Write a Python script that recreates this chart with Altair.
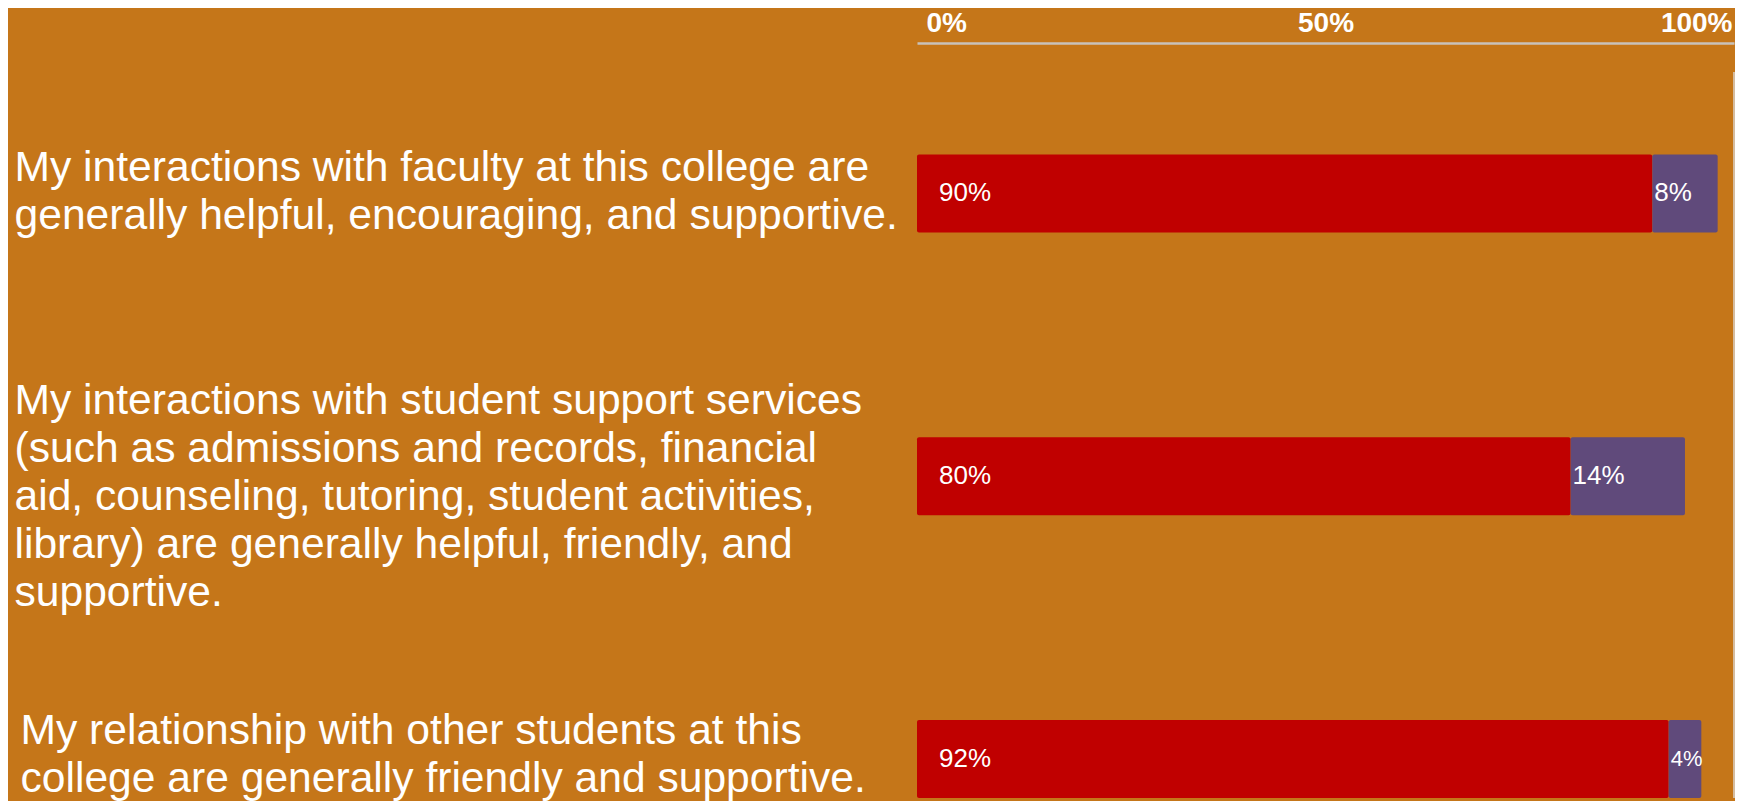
import altair as alt
import pandas as pd

# ---- data ----
questions = [
    "My interactions with faculty at this college are|generally helpful, encouraging, and supportive.",
    "My interactions with student support services|(such as admissions and records, financial|aid, counseling, tutoring, student activities,|library) are generally helpful, friendly, and|supportive.",
    "My relationship with other students at this|college are generally friendly and supportive.",
]
agree = [90, 80, 92]
disagree = [8, 14, 4]
segments = ["Agree", "Disagree"]
colors = ["#C00000", "#604A7B"]
x_ticks = [0, 50, 100]

rows = []
for q, a, d in zip(questions, agree, disagree):
    rows.append({"question": q, "segment": segments[0], "order": 0, "value": a})
    rows.append({"question": q, "segment": segments[1], "order": 1, "value": d})
df = pd.DataFrame(rows)

FONT = "Liberation Sans"
BG = "#C57619"
W, H = 817, 755

xscale = alt.Scale(domain=[0, 100], nice=False, zero=True)
yscale = alt.Scale(domain=questions, paddingInner=0.724, paddingOuter=0.197, align=1)

x_axis = alt.Axis(
    orient="top", values=x_ticks, labelExpr="datum.value + '%'", title="",
    grid=False, ticks=False, tickSize=0, labelFlush=True, labelPadding=6,
    labelOffset={"condition": [
        {"test": "datum.value == 0", "value": 9},
        {"test": "datum.value == 100", "value": -2},
    ], "value": 0},
    labelFont=FONT, labelFontSize=28, labelFontWeight="bold", labelColor="white",
    domainColor="#C8C2BA", domainWidth=2.5,
)
y_axis = alt.Axis(
    orient="left", title="", labelAlign="left", labelBaseline="middle",
    labelPadding={"condition": {"test": "indexof(datum.value, 'relationship') >= 0", "value": 897},
                  "value": 903},
    labelOffset={"condition": [
        {"test": "indexof(datum.value, 'faculty') >= 0", "value": -25},
        {"test": "indexof(datum.value, 'student support') >= 0", "value": -75},
    ], "value": -28},
    ticks=False, tickSize=0, domain=False, grid=False,
    labelExpr="split(datum.label, '|')", labelFont=FONT, labelFontSize=42.6,
    labelColor="white", labelLineHeight=48, labelLimit=2000,
)

X0 = alt.X("x0:Q", scale=xscale, axis=x_axis)
YQ = alt.Y("question:N", scale=yscale, axis=y_axis, sort=questions)

base = alt.Chart(df).transform_stack(
    stack="value", groupby=["question"], as_=["x0", "x1"],
    sort=[alt.SortField("order")],
).transform_calculate(label="datum.value + '%'")

bars = base.mark_bar(cornerRadius=2).encode(
    x=X0,
    x2="x1:Q",
    y=YQ,
    color=alt.Color("segment:N", scale=alt.Scale(domain=segments, range=colors), legend=None),
)

text_agree = base.transform_filter(alt.datum.segment == segments[0]).mark_text(
    align="left", baseline="middle", dx=22, font=FONT, fontSize=26, color="white"
).encode(x=X0, y=YQ, text="label:N")

text_dis = base.transform_filter(alt.datum.segment == segments[1]).mark_text(
    align="left", baseline="middle", dx=2, font=FONT, color="white"
).encode(
    x=X0, y=YQ, text="label:N",
    size=alt.condition(alt.datum.value < 5, alt.value(22), alt.value(26)),
)

rule = alt.Chart(pd.DataFrame({"v": [100]})).mark_rule(color="#D8D4CE", strokeWidth=1.5).encode(
    x=alt.X("v:Q", scale=xscale, axis=x_axis),
    y=alt.value(29),
    y2=alt.value(H),
)

chart = alt.layer(bars, text_agree, text_dis, rule).properties(
    width=W, height=H,
    padding={"left": 6, "top": 1, "right": 0, "bottom": 0},
    background=BG,
).configure_view(stroke=None)

chart.save("out.html", embed_options={"renderer": "svg", "actions": False})
